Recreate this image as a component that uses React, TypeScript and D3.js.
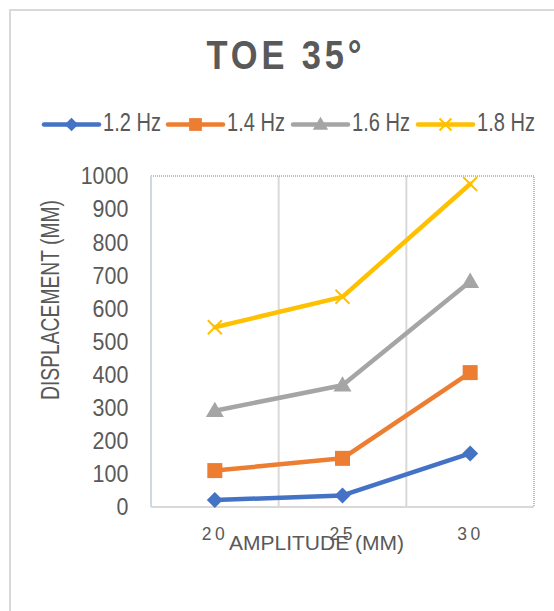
import React from "react";
import * as d3 from "d3";

const categories = ["20", "25", "30"];
const seriesNames = ["1.2 Hz", "1.4 Hz", "1.6 Hz", "1.8 Hz"];
const s12 = [21, 35, 162];
const s14 = [110, 147, 406];
const s16 = [291, 368, 681];
const s18 = [543, 635, 976];
const yTicks = [0, 100, 200, 300, 400, 500, 600, 700, 800, 900, 1000];
const colors = ["#4472C4", "#ED7D31", "#A5A5A5", "#FFC000"];
const markerTypes = ["diamond", "square", "triangle", "x"];

const FONT = "'Liberation Sans', Arial, sans-serif";
const TXT = "#595959";

function Marker({ type, x, y, color, s = 1 }: { type: string; x: number; y: number; color: string; s?: number }) {
  if (type === "diamond") {
    const r = 8 * s;
    return <path d={`M${x},${y - r}L${x + r},${y}L${x},${y + r}L${x - r},${y}Z`} fill={color} />;
  }
  if (type === "square") {
    const r = 7.5 * s;
    return <rect x={x - r} y={y - r} width={2 * r} height={2 * r} fill={color} />;
  }
  if (type === "triangle") {
    const r = 9 * s;
    return <path d={`M${x},${y - r}L${x + r},${y + r * 0.7}L${x - r},${y + r * 0.7}Z`} fill={color} />;
  }
  const r = 7 * s;
  return (
    <path d={`M${x - r},${y - r}L${x + r},${y + r}M${x - r},${y + r}L${x + r},${y - r}`} stroke={color} strokeWidth={2} fill="none" />
  );
}

export default function App() {
  const W = 554, H = 611;
  const left = 151, right = 534, top = 176, bottom = 507;
  const x = d3.scaleBand<string>().domain(categories).range([left, right]);
  const y = d3.scaleLinear().domain([0, 1000]).range([bottom, top]);
  const allSeries = [s12, s14, s16, s18];
  const cx = (i: number) => (x(categories[i]) as number) + x.bandwidth() / 2;
  const line = d3
    .line<number>()
    .x((_, i) => cx(i))
    .y((d) => y(d));

  const legendX = [44, 168, 293, 418];
  const legendY = 124.5;

  return (
    <svg width={W} height={H} style={{ position: "absolute", left: 0, top: 0, background: "#fff" }} fontFamily={FONT}>
      <rect x={10} y={10} width={W + 20} height={H + 20} fill="#fff" stroke="#d9d9d9" strokeWidth={2} />
      <text transform="translate(206.5,69.3) scale(0.84,1)" fontSize={41} fontWeight="bold" fill={TXT} textLength={155 / 0.84} lengthAdjust="spacing">
        TOE 35°
      </text>
      {seriesNames.map((n, i) => (
        <g key={n}>
          <line x1={legendX[i]} x2={legendX[i] + 55} y1={legendY} y2={legendY} stroke={colors[i]} strokeWidth={4.5} strokeLinecap="round" />
          <Marker type={markerTypes[i]} x={legendX[i] + 27.5} y={legendY} color={colors[i]} s={0.85} />
          <text x={legendX[i] + 59} y={131} fontSize={26} fill={TXT} textLength={58} lengthAdjust="spacingAndGlyphs">
            {n}
          </text>
        </g>
      ))}
      {categories.slice(1).map((c) => (
        <line key={c} x1={x(c)} x2={x(c)} y1={top} y2={bottom} stroke="#d9d9d9" strokeWidth={2} />
      ))}
      <path d={`M${left},${top}H${right}V${bottom}`} fill="none" stroke="#8faadc" strokeWidth={1.5} strokeDasharray="1,1" />
      <line x1={left} x2={left} y1={top} y2={bottom} stroke="#d0d7e5" strokeWidth={2} />
      <line x1={left} x2={right} y1={bottom} y2={bottom} stroke="#d9d9d9" strokeWidth={2} />
      {yTicks.map((t) => {
        const len = String(t).length * 11.9;
        return (
          <text key={t} x={128.3 - len} y={y(t) + 8.3} fontSize={23} fill={TXT} textLength={len} lengthAdjust="spacingAndGlyphs">
            {t}
          </text>
        );
      })}
      {categories.map((c, i) => (
        <text key={c} x={cx(i) - 13} y={540} fontSize={17.5} fill={TXT} textLength={23} lengthAdjust="spacing">
          {c}
        </text>
      ))}
      <text x={229} y={550} fontSize={20} fill={TXT} textLength={175} lengthAdjust="spacingAndGlyphs">
        AMPLITUDE (MM)
      </text>
      <text transform="translate(59,300) rotate(-90)" x={-100} fontSize={26} fill={TXT} textLength={200} lengthAdjust="spacingAndGlyphs">
        DISPLACEMENT (MM)
      </text>
      {allSeries.map((s, i) => (
        <g key={i}>
          <path d={line(s) as string} fill="none" stroke={colors[i]} strokeWidth={4.5} strokeLinejoin="round" strokeLinecap="round" />
          {s.map((v, j) => (
            <Marker key={j} type={markerTypes[i]} x={cx(j)} y={y(v)} color={colors[i]} />
          ))}
        </g>
      ))}
    </svg>
  );
}
